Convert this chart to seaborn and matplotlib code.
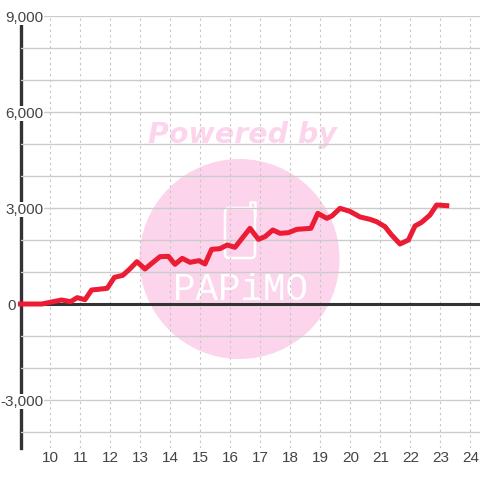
import matplotlib
matplotlib.use("Agg")
import matplotlib.pyplot as plt
import seaborn as sns
from matplotlib.patches import Circle, FancyBboxPatch
from matplotlib.lines import Line2D
from matplotlib.transforms import Affine2D

hours = [9.0, 9.71, 9.98, 10.37, 10.67, 10.89, 11.15, 11.37, 11.59, 11.89,
         12.13, 12.41, 12.63, 12.88, 13.15, 13.43, 13.65, 13.93, 14.15, 14.39,
         14.65, 14.95, 15.15, 15.37, 15.65, 15.89, 16.15, 16.65, 16.93, 17.15,
         17.41, 17.65, 17.93, 18.21, 18.68, 18.91, 19.21, 19.38, 19.65, 19.98,
         20.32, 20.65, 20.87, 21.15, 21.37, 21.65, 21.93, 22.15, 22.37, 22.65,
         22.87, 23.21]
values = [0, 0, 52, 125, 73, 198, 135, 438, 458, 490,
          833, 896, 1083, 1323, 1094, 1312, 1479, 1490, 1240, 1427,
          1302, 1354, 1250, 1708, 1729, 1844, 1771, 2365, 2021, 2104,
          2313, 2208, 2229, 2333, 2365, 2833, 2677, 2750, 2990, 2896,
          2719, 2646, 2573, 2417, 2156, 1875, 2000, 2438, 2552, 2781,
          3094, 3073]
x_ticks = list(range(10, 25))
y_labeled = [-3000, 0, 3000, 6000, 9000]
y_grid = [-4000, -2000, -1000, 1000, 2000, 4000, 5000, 7000, 8000]

sns.set_style("white")
plt.rcParams["font.family"] = ["Liberation Sans", "DejaVu Sans"]

DARK = "#333333"
TEXT = "#444444"
PINK = "#fcd5ec"
RED = "#ec1c34"

fig = plt.figure(figsize=(4.8, 4.8), dpi=100)
ax = fig.add_axes([20.5 / 480, 32 / 480, 459.5 / 480, 432 / 480])
ax.set_xlim(9, 24.317)
ax.set_ylim(-4500, 9000)

# watermark is placed in pixels measured from the top left corner
px = Affine2D().scale(1, -1).translate(0, 480)
ax.add_patch(Circle((239.5, 259), 100, transform=px, color=PINK, lw=0, zorder=1))
ax.text(242, 135, "Powered by", transform=px, color=PINK, fontsize=20.5,
        family="DejaVu Sans", weight="bold", style="italic",
        ha="center", va="center", zorder=1)
ax.add_patch(FancyBboxPatch((228, 211), 24, 44, boxstyle="round,pad=3,rounding_size=4",
                            transform=px, fc="none", ec="white", lw=1.8, zorder=1))
ax.add_line(Line2D([250, 250, 255, 255], [208, 202, 202, 216], transform=px,
                   color="white", lw=1.8, zorder=1))
ax.text(240, 290, "PAPiMO", transform=px, color="white", fontsize=27,
        family="Liberation Mono", ha="center", va="center", zorder=1)

sns.lineplot(x=hours, y=values, ax=ax, estimator=None, sort=False, color=RED,
             linewidth=3.6, zorder=6, clip_on=False, solid_capstyle="projecting",
             solid_joinstyle="round")
ax.set_xlabel("")
ax.set_ylabel("")

ax.set_xticks(x_ticks)
ax.set_yticks(y_labeled)
ax.set_yticks(y_grid, minor=True)
ax.set_yticklabels([f"{v:,}" for v in y_labeled])
ax.xaxis.grid(True, color="#c4c4c4", lw=0.8, ls=(0, (2, 3)))
ax.yaxis.grid(True, which="both", color="#cccccc", lw=1.0)
ax.xaxis.set_zorder(1.2)
ax.yaxis.set_zorder(3)

ax.tick_params(axis="both", which="both", length=0, labelcolor=TEXT, labelsize=11)
ax.tick_params(axis="x", pad=2)
ax.tick_params(axis="y", pad=-16.6)
for tick, val in zip(ax.yaxis.get_major_ticks(), y_labeled):
    if val == 0:
        tick.set_pad(3)
    tick.label1.set_bbox(dict(facecolor="white", edgecolor="none", pad=0.5))
    tick.label1.set_zorder(4)

for side in ["top", "right", "bottom"]:
    ax.spines[side].set_visible(False)
ax.spines["left"].set_color(DARK)
ax.spines["left"].set_linewidth(2.4)
ax.axhline(0, color=DARK, lw=2.2, zorder=5)

fig.savefig("out.png", dpi=100)
